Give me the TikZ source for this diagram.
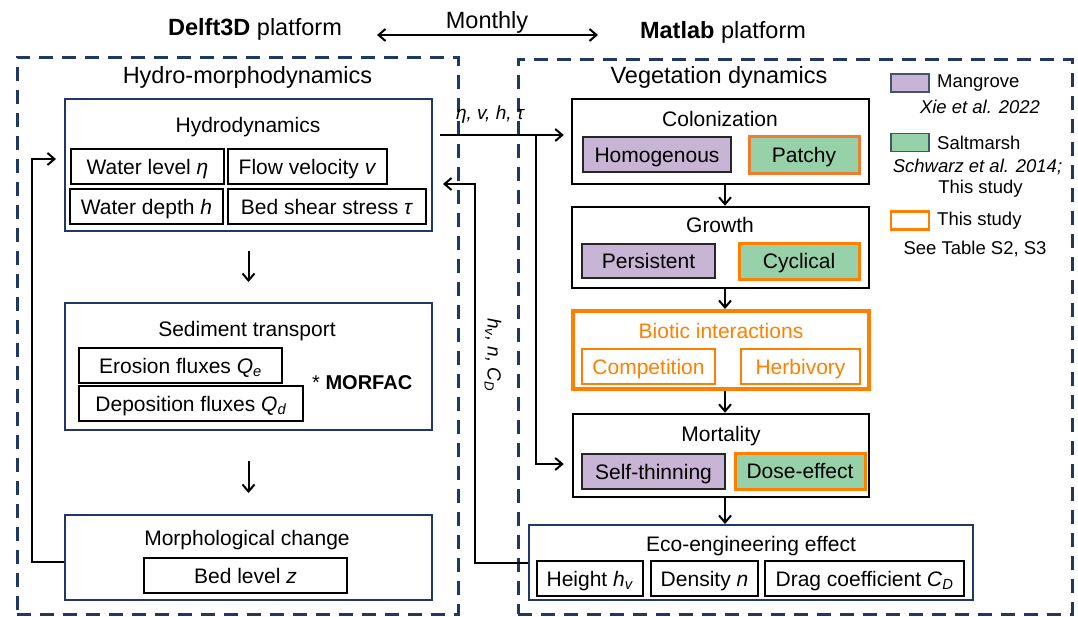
\documentclass[tikz,border=0pt]{standalone}
\usepackage{fontspec}
\setmainfont{Liberation Sans}
\usetikzlibrary{arrows.meta,calc}
\definecolor{navy}{HTML}{203864}
\definecolor{mgrc}{HTML}{C8B4D4}
\definecolor{sltc}{HTML}{96D1A9}
\definecolor{org}{HTML}{FF8000}
\definecolor{orgb}{HTML}{ED7D31}
\definecolor{swb}{HTML}{44546A}
\tikzset{
  frame/.style={draw=navy, line width=3pt, dash pattern=on 14pt off 9pt, inner sep=0pt},
  bigtitle/.style={font=\fontsize{23.5}{28}\selectfont, inner sep=0pt},
  ttl/.style={font=\fontsize{21}{25}\selectfont, inner sep=0pt},
  cell/.style={draw=black, line width=1.3pt, font=\fontsize{21}{25}\selectfont, inner sep=0pt, text height=15pt, text depth=0pt},
  mgr/.style={cell, fill=mgrc, draw=black!85},
  slt/.style={cell, fill=sltc, draw=org, line width=3pt},
  bio/.style={cell, draw=org, text=org, line width=1.5pt},
  stage/.style={draw=black, line width=2.5pt, inner sep=0pt},
  hbox/.style={draw=navy, line width=2pt, inner sep=0pt},
  arr/.style={line width=2pt, -{Straight Barb[length=7pt,width=12pt]}},
  lbl/.style={font=\fontsize{19}{22}\selectfont\itshape, inner sep=0pt},
  leg/.style={font=\fontsize{18.5}{22}\selectfont, inner sep=0pt},
  swatch/.style={minimum width=38pt, minimum height=18pt, inner sep=0pt}
}
\begin{document}
\begin{tikzpicture}[x=1pt,y=-1pt]
\useasboundingbox (0,0) rectangle (1078,616);

% platform titles
\node[bigtitle, anchor=base] (delft) at (255,35) {\textbf{Delft3D} platform};
\node[bigtitle, anchor=base] (matlab) at (723,38) {\textbf{Matlab} platform};
\node[bigtitle, anchor=base] (monthly) at (487,28) {Monthly};
\coordinate (m1) at (377,35);
\coordinate (m2) at (598,35);
\draw[line width=2pt, {Straight Barb[length=7pt,width=12pt]}-{Straight Barb[length=7pt,width=12pt]}] (m1) -- (m2);

% dashed frames
\node[frame, minimum width=441pt, minimum height=557pt] (lframe) at (237.5,335.5) {};
\node[frame, minimum width=554pt, minimum height=555pt] (rframe) at (795,336.5) {};
\node[bigtitle, anchor=base] (hmtitle) at (247.5,83) {Hydro-morphodynamics};
\node[bigtitle, anchor=base] (vdtitle) at (719,83) {Vegetation dynamics};

% Hydrodynamics
\node[hbox, minimum width=367pt, minimum height=132pt] (hydro) at (248.5,165) {};
\node[ttl, anchor=base] (hydrot) at (248,132) {Hydrodynamics};
\node[cell, minimum width=153pt, minimum height=35pt] (wl) at (147.5,166.5) {Water level \textit{η}};
\node[cell, minimum width=159pt, minimum height=35pt] (fv) at (307.5,166.5) {Flow velocity \textit{v}};
\node[cell, minimum width=153pt, minimum height=35pt] (wd) at (146.5,206.5) {Water depth \textit{h}};
\node[cell, minimum width=198pt, minimum height=35pt] (bs) at (327,206.5) {Bed shear stress \textit{τ}};

% Sediment transport
\node[hbox, minimum width=367pt, minimum height=127pt] (sed) at (248.5,366.5) {};
\node[ttl, anchor=base] (sedt) at (247,336) {Sediment transport};
\node[cell, minimum width=203pt, minimum height=35pt] (ero) at (180.5,365.5) {Erosion fluxes \textit{Q}\textsubscript{\textit{e}}};
\node[cell, minimum width=224pt, minimum height=35pt] (dep) at (191,403.5) {Deposition fluxes \textit{Q}\textsubscript{\textit{d}}};
\node[font=\fontsize{20}{24}\selectfont, inner sep=0pt, anchor=west] (morfac) at (312,383) {* \textbf{MORFAC}};

% Morphological change
\node[hbox, minimum width=367pt, minimum height=85pt] (morph) at (248.5,557.5) {};
\node[ttl, anchor=base] (morpht) at (247,545) {Morphological change};
\node[cell, minimum width=203pt, minimum height=35pt] (bed) at (245.5,575.5) {Bed level \textit{z}};

% Colonization
\node[stage, minimum width=297pt, minimum height=85pt] (col) at (720.5,141.5) {};
\node[ttl, anchor=base] (colt) at (720,126) {Colonization};
\node[mgr, minimum width=148pt, minimum height=35pt] (homo) at (657,154.5) {Homogenous};
\node[slt, draw=orgb, minimum width=110pt, minimum height=37pt] (patchy) at (804,154.5) {Patchy};

% Growth
\node[stage, minimum width=297pt, minimum height=81pt] (grow) at (720.5,247.5) {};
\node[ttl, anchor=base] (growt) at (720,232) {Growth};
\node[mgr, minimum width=133pt, minimum height=34pt] (pers) at (648.5,261) {Persistent};
\node[slt, minimum width=120pt, minimum height=36pt] (cyc) at (799,261) {Cyclical};

% Biotic interactions
\node[draw=org, line width=4pt, inner sep=0pt, minimum width=296pt, minimum height=78pt] (bio) at (721,350) {};
\node[ttl, anchor=base, text=org] (biot) at (721,338) {Biotic interactions};
\node[bio, minimum width=133pt, minimum height=35pt] (comp) at (648.5,366.5) {Competition};
\node[bio, minimum width=119pt, minimum height=35pt] (herb) at (800.5,366.5) {Herbivory};

% Mortality
\node[stage, minimum width=296pt, minimum height=83pt] (mort) at (721,455.5) {};
\node[ttl, anchor=base] (mortt) at (721,441) {Mortality};
\node[mgr, minimum width=143pt, minimum height=35pt] (self) at (653.5,471.5) {Self-thinning};
\node[slt, minimum width=130pt, minimum height=36pt] (dose) at (800,471) {Dose-effect};

% Eco-engineering effect
\node[hbox, minimum width=444pt, minimum height=75pt] (eco) at (751,562.5) {};
\node[ttl, anchor=base] (ecot) at (751,551) {Eco-engineering effect};
\node[cell, minimum width=106pt, minimum height=35pt] (hgt) at (590,578.5) {Height \textit{h}\textsubscript{\textit{v}}};
\node[cell, minimum width=107pt, minimum height=35pt] (dens) at (704.5,578.5) {Density \textit{n}};
\node[cell, minimum width=199pt, minimum height=35pt] (drag) at (864.5,578.5) {Drag coefficient \textit{C}\textsubscript{\textit{D}}};

% Legend
\node[swatch, fill=mgrc, draw=swb, line width=1.5pt] (sw1) at (910,83) {};
\node[leg, anchor=west] (l1) at (937,83) {Mangrove};
\node[leg, font=\fontsize{18.5}{22}\selectfont\itshape] (l1r) at (980,107) {Xie et al. 2022};
\node[swatch, fill=sltc, draw=swb, line width=1.5pt] (sw2) at (910,142.5) {};
\node[leg, anchor=west] (l2) at (937,143) {Saltmarsh};
\node[leg, font=\fontsize{18.5}{22}\selectfont\itshape] (l2r) at (977.5,167) {Schwarz et al. 2014;};
\node[leg] (l2s) at (980.5,189) {This study};
\node[swatch, fill=white, draw=org, line width=2.5pt] (sw3) at (910,220.5) {};
\node[leg, anchor=west] (l3) at (937,221) {This study};
\node[leg] (l3s) at (975,249) {See Table S2, S3};

% connector labels
\node[lbl] (fl) at (490,115) {η, v, h, τ};
\node[lbl, rotate=-90] (bl) at (493,355) {h\textsubscript{v}, n, C\textsubscript{D}};

% left column arrows
\draw[arr] ($(hydro.south)+(0,19)$) -- ($(sed.north)+(0,-20)$);
\draw[arr] ($(sed.south)+(0,30)$) -- ($(morph.north)+(0,-21)$);
\coordinate (lf) at (32,159);
\draw[arr, shorten >=8pt] ($(morph.west)+(0,4.5)$) -| (lf) -- (lf -| hydro.west);

% forcing from hydrodynamics to vegetation
\coordinate (tS) at (440,135);
\coordinate (tB) at (536,135);
\draw[arr, shorten >=7pt] (tS) -- (tS -| col.west);
\draw[arr, shorten >=8pt] (tB) |- ($(mort.west)+(0,8.5)$);

% feedback from vegetation to hydrodynamics
\coordinate (rt) at (475,184);
\draw[arr, shorten >=10pt] (eco.west) -| (rt) -- (rt -| hydro.east);

% right column arrows
\coordinate (ax) at (725,0);
\draw[arr] (col.south -| ax) -- (grow.north -| ax);
\draw[arr] (grow.south -| ax) -- (bio.north -| ax);
\draw[arr] (bio.south -| ax) -- (mort.north -| ax);
\draw[arr] (mort.south -| ax) -- (eco.north -| ax);
\end{tikzpicture}
\end{document}
